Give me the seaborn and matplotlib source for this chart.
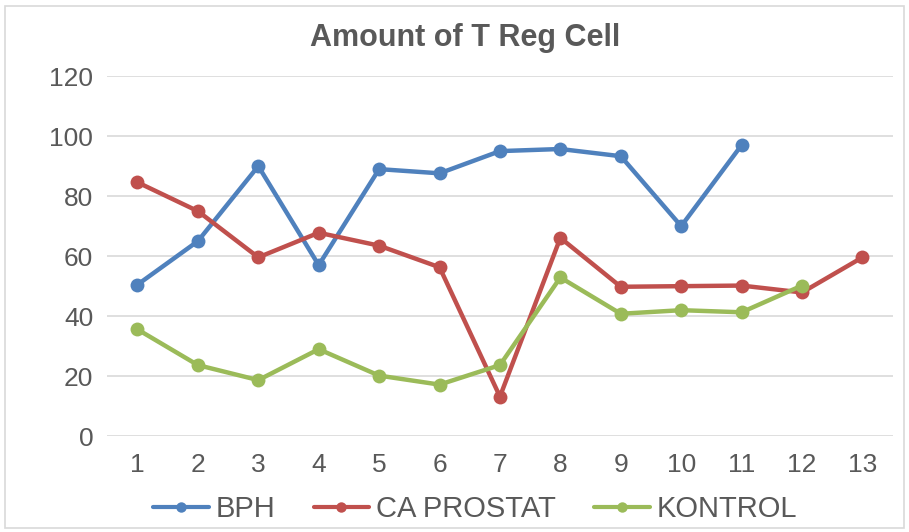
import matplotlib
matplotlib.use("Agg")
import matplotlib.pyplot as plt
import seaborn as sns
import pandas as pd
import numpy as np
from matplotlib.patches import Rectangle

categories = list(range(1, 14))
bph = [50.5, 65, 90, 57, 89, 87.6, 95, 95.7, 93.3, 70, 97]
ca_prostat = [84.6, 75, 59.6, 67.8, 63.5, 56.3, 13.2, 66.1, 49.8, 50, 50.2, 47.9, 59.6]
kontrol = [35.6, 23.7, 18.7, 29, 20.2, 17.2, 23.7, 52.9, 40.8, 42, 41.3, 50.2]
series_names = ["BPH", "CA PROSTAT", "KONTROL"]
colors = ["#4F81BD", "#C0504D", "#9BBB59"]
y_ticks = [0, 20, 40, 60, 80, 100, 120]
title = "Amount of T Reg Cell"

rows = []
for name, vals in zip(series_names, [bph, ca_prostat, kontrol]):
    for c, v in zip(categories, vals):
        rows.append({"x": c, "value": v, "series": name})
df = pd.DataFrame(rows)

sns.set_theme(style="white")
plt.rcParams["font.family"] = ["Liberation Sans", "DejaVu Sans"]
text_color = "#595959"
grid_color = "#D9D9D9"

fig = plt.figure(figsize=(9.09, 5.32), dpi=100)
ax = fig.add_axes([0.118, 0.180, 0.864, 0.677])

sns.lineplot(data=df, x="x", y="value", hue="series", hue_order=series_names,
             palette=colors, marker="o", markersize=10, markeredgewidth=0,
             linewidth=3.2, ax=ax, legend=True)

ax.set_xlim(0.5, 13.5)
ax.set_ylim(0, 120)
ax.set_yticks(y_ticks)
ax.set_xticks(categories)
ax.set_xticklabels([str(c) for c in categories])
ax.set_xlabel("")
ax.set_ylabel("")
ax.grid(axis="y", color=grid_color, linewidth=1.2)
ax.set_axisbelow(True)
for s in ["top", "right", "left", "bottom"]:
    ax.spines[s].set_visible(False)
ax.tick_params(axis="both", length=0, labelsize=19, colors=text_color)
ax.tick_params(axis="y", pad=10)
ax.tick_params(axis="x", pad=12)

handles, labels = ax.get_legend_handles_labels()
leg = ax.legend(handles, labels, loc="center", bbox_to_anchor=(0.523, 0.043),
                bbox_transform=fig.transFigure, ncol=3, frameon=False,
                fontsize=21, labelcolor=text_color, handlelength=1.9,
                handletextpad=0.25, columnspacing=1.3, markerscale=0.75)
for h in leg.legend_handles:
    h.set_linewidth(3.0)

fig.text(0.512, 0.928, title, ha="center", va="center", fontsize=22,
         fontweight="bold", color=text_color)

fig.patches.append(Rectangle((0.005, 0.008), 0.99, 0.98, transform=fig.transFigure,
                             fill=False, edgecolor=grid_color, linewidth=1.2))

fig.savefig("out.png", dpi=100)
